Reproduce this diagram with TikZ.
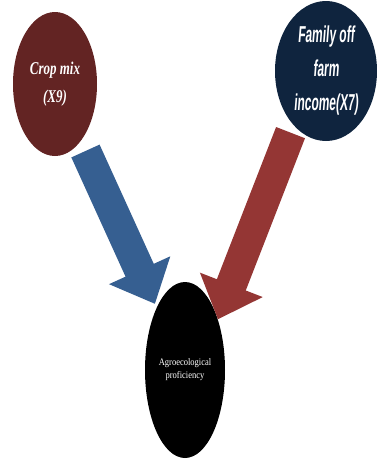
\documentclass[tikz,border=0pt]{standalone}
\usepackage{fontspec}
\usepackage{tikz}
\usetikzlibrary{shapes}
\usetikzlibrary{arrows.meta}

\newfontfamily\cropserif[FakeStretch=0.72]{Liberation Serif}
\newfontfamily\famsans[FakeStretch=0.52,FakeSlant=0.08]{Liberation Sans}
\newfontfamily\agroserif[FakeStretch=0.85]{Liberation Serif}

\definecolor{cropred}{HTML}{632423}
\definecolor{famnavy}{HTML}{0F243E}
\definecolor{arrowblue}{HTML}{365F91}
\definecolor{arrowred}{HTML}{943634}

\begin{document}
\begin{tikzpicture}[x=1pt, y=-1pt,
    bubble/.style={ellipse, inner sep=0pt, align=center, text=white},
    bigarrow/.style={line width=31pt, -{Triangle[length=37pt,width=65pt]}}]
    \useasboundingbox (0,0) rectangle (377,461);

    \node (Crop) at (55,84) [bubble, fill=cropred, minimum width=84pt, minimum height=144pt,
        font=\cropserif\bfseries\itshape\fontsize{18}{28}\selectfont] {Crop mix\\(X9)};
    \node (Fam) at (326,71) [bubble, fill=famnavy, minimum width=102pt, minimum height=140pt,
        font=\famsans\bfseries\fontsize{23}{34}\selectfont] {Family off\\farm\\income(X7)};
    \node (Agro) at (185,370) [bubble, fill=black, minimum width=80pt, minimum height=176pt,
        font=\agroserif\fontsize{10}{13}\selectfont] {Agroecological\\proficiency};

    \draw [bigarrow, arrowblue, shorten <=11pt, shorten >=4pt] (Crop) -- (Agro);
    \draw [bigarrow, arrowred, shorten <=8pt] (Fam.239) -- (Agro.57);
\end{tikzpicture}
\end{document}
